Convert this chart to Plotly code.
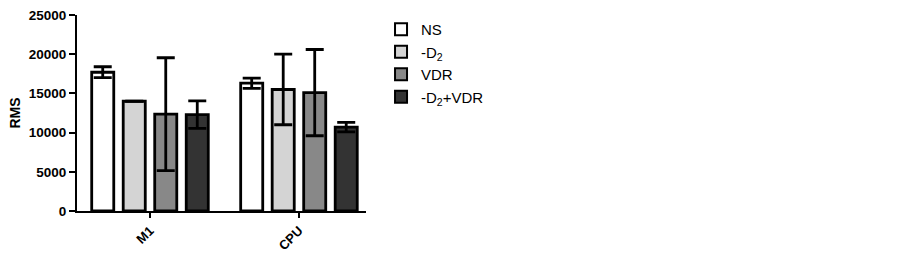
import plotly.graph_objects as go

categories = ["M1", "CPU"]
series_names = ["NS", "-D<sub>2</sub>", "VDR", "-D<sub>2</sub>+VDR"]
values = [
    [17700, 16300],
    [14000, 15500],
    [12350, 15100],
    [12300, 10700],
]
errors = [
    [700, 650],
    [0, 4500],
    [7200, 5500],
    [1750, 600],
]
colors = ["#ffffff", "#d4d4d4", "#888888", "#333333"]
y_ticks = [0, 5000, 10000, 15000, 20000, 25000]

fig = go.Figure()
for name, vals, errs, col in zip(series_names, values, errors, colors):
    fig.add_trace(go.Bar(
        x=categories, y=vals, name=name,
        marker=dict(color=col, line=dict(color="black", width=2.8)),
        error_y=dict(type="data", array=errs, visible=True, color="black",
                     thickness=2.8, width=9),
    ))

fig.update_layout(
    width=902, height=253,
    margin=dict(l=77, r=536, t=15, b=42, autoexpand=False),
    paper_bgcolor="white", plot_bgcolor="white",
    barmode="group", bargap=0.154, bargroupgap=0.3,
    font=dict(family="Liberation Sans, Arial, sans-serif", color="black"),
    showlegend=True,
    legend=dict(x=1.052, y=1.01, xanchor="left", yanchor="top",
                font=dict(size=15), tracegroupgap=0, itemsizing="constant",
                bgcolor="rgba(0,0,0,0)"),
    xaxis=dict(range=[-0.49, 1.45], showline=True, linecolor="black",
               linewidth=2, ticks="outside", ticklen=5, tickwidth=2,
               tickcolor="black", tickangle=-45, automargin=False,
               tickfont=dict(size=13),
               showgrid=False, zeroline=False),
    yaxis=dict(range=[0, 25000], tickvals=y_ticks,
               ticktext=["<b>%d</b>" % v for v in y_ticks],
               showline=True, linecolor="black", linewidth=2, automargin=False,
               ticks="outside", ticklen=6, tickwidth=2, tickcolor="black",
               tickfont=dict(size=13.5), showgrid=False, zeroline=False,
               title=dict(text="<b>RMS</b>", font=dict(size=14), standoff=5)),
)
fig.update_xaxes(ticktext=["<b>M1</b>", "<b>CPU</b>"], tickvals=categories)

# remove the default 8px page margin so the figure sits at the window origin
fig.write_html("out.html", config={"displayModeBar": False},
               post_script="document.body.style.margin='0';")
